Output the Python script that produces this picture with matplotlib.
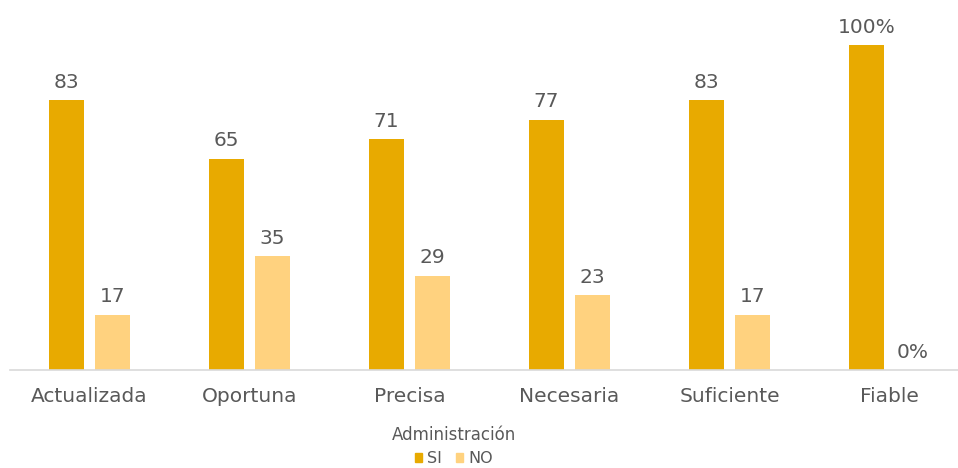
import matplotlib
matplotlib.use("Agg")
import matplotlib.pyplot as plt
import numpy as np
from matplotlib.patches import Patch

categories = ["Actualizada", "Oportuna", "Precisa", "Necesaria", "Suficiente", "Fiable"]
si_values = [83, 65, 71, 77, 83, 100]
no_values = [17, 35, 29, 23, 17, 0]
# the last category is labelled as a percentage
label_suffix = ["", "", "", "", "", "%"]

SI_COLOR = "#E8AA00"
NO_COLOR = "#FFD27F"
TEXT = "#595959"

plt.rcParams["font.family"] = ["DejaVu Sans"]

W, H = 958, 468
fig = plt.figure(figsize=(W / 100, H / 100), dpi=100)

# axes spans category slots of 160 px, first centred at x=89.5
left_px = 89.5 - 80
base_px = 370
ax = fig.add_axes([left_px / W, 1 - base_px / H, 960 / W, base_px / H])

x = np.arange(len(categories))
bw = 0.22
off = 0.144
b1 = ax.bar(x - off, si_values, bw, color=SI_COLOR, label="SI")
b2 = ax.bar(x + off, no_values, bw, color=NO_COLOR, label="NO")

ax.set_xlim(-0.5, len(categories) - 0.5)
ax.set_ylim(0, base_px / 3.25)

for bars, vals in ((b1, si_values), (b2, no_values)):
    for rect, v, suf in zip(bars, vals, label_suffix):
        ax.annotate(f"{v}{suf}", (rect.get_x() + rect.get_width() / 2, v),
                    xytext=(0, 6), textcoords="offset points",
                    ha="center", va="bottom", fontsize=14.5, color=TEXT)

for s in ("top", "right", "left"):
    ax.spines[s].set_visible(False)
ax.spines["bottom"].set_color("#D9D9D9")
ax.spines["bottom"].set_linewidth(1.2)
ax.set_yticks([])
ax.set_xticks(x)
ax.set_xticklabels(categories, fontsize=14.5, color=TEXT)
ax.tick_params(axis="x", length=0, pad=12)

handles = [Patch(color=SI_COLOR), Patch(color=NO_COLOR)]
leg = fig.legend(handles, ["SI", "NO"], title="Administración", ncol=2,
                 loc="center", bbox_to_anchor=(454 / W, 1 - 446 / H),
                 frameon=False, fontsize=11.5, title_fontsize=12,
                 handlelength=0.45, handleheight=0.45, handletextpad=0.35,
                 columnspacing=0.85, borderpad=0.0, labelspacing=0.2)
leg._legend_box.sep = 5
leg.get_title().set_color(TEXT)
for t in leg.get_texts():
    t.set_color(TEXT)

fig.savefig("out.png", dpi=100)
